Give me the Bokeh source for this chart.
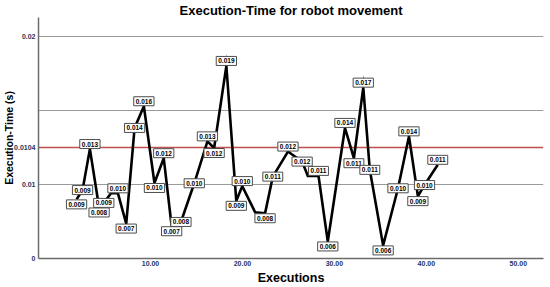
from bokeh.plotting import figure
from bokeh.models import (Range1d, FixedTicker, Span, ColumnDataSource, PrintfTickFormatter)
from bokeh.core.properties import value
from bokeh.embed import file_html
from bokeh.resources import INLINE

# ---- data ----
executions = [1.96, 2.61, 3.41, 4.41, 4.92, 5.71, 6.46, 7.36, 8.27, 9.28,
              10.43, 11.44, 12.30, 13.31, 14.76, 16.19, 16.92, 18.25, 19.33, 19.98,
              21.38, 22.46, 23.30, 24.95, 26.49, 27.11, 28.27, 29.28, 31.15, 32.12,
              33.14, 33.85, 35.30, 36.92, 38.11, 39.08, 39.80, 41.24]
exec_time = [0.00898, 0.00961, 0.01239, 0.00843, 0.00874, 0.00939, 0.00939, 0.00734, 0.01382, 0.01529,
             0.01009, 0.01177, 0.00716, 0.00745, 0.01007, 0.01291, 0.01246, 0.01802, 0.00888, 0.00988,
             0.00811, 0.00804, 0.01052, 0.01222, 0.01154, 0.01057, 0.01057, 0.00613, 0.01382, 0.01177,
             0.01655, 0.01098, 0.00586, 0.00973, 0.01325, 0.00920, 0.00995, 0.01132]
point_labels = ["0.009", "0.009", "0.013", "0.008", "0.009", "", "0.010", "0.007", "0.014", "0.016",
                "0.010", "0.012", "0.007", "0.008", "0.010", "0.013", "0.012", "0.019", "0.009", "0.010",
                "", "0.008", "0.011", "0.012", "0.012", "", "0.011", "0.006", "0.014", "0.011",
                "0.017", "0.011", "0.006", "0.010", "0.014", "0.009", "0.010", "0.011"]

x_ticks = [10, 20, 30, 40, 50]
y_ticks = [0.00498, 0.01, 0.0125, 0.02]
y_tick_labels = ["0", "0.01", "0.0104", "0.02"]
y_grid = [0.01, 0.015, 0.02]
mean_line = 0.0125

X_START, X_END = -2.18, 52.74
Y_START, Y_END = 0.004973, 0.021303

FONT = "Liberation Sans"
TICK_COLOR = "#1f3462"

p = figure(width=550, height=287, output_backend="svg", toolbar_location=None,
           title="Execution-Time for robot movement",
           x_range=Range1d(X_START, X_END), y_range=Range1d(Y_START, Y_END),
           min_border_left=35, min_border_right=7, min_border_top=0, min_border_bottom=29)
p.outline_line_color = None
p.background_fill_color = "white"
p.border_fill_color = "white"

p.title.align = "center"
p.title.text_font = FONT
p.title.text_font_size = "13px"
p.title.text_font_style = "bold"
p.title.text_color = "black"
p.title.standoff = 0
p.title.offset = 0

# axes
for ax in (p.xaxis[0], p.yaxis[0]):
    ax.major_tick_out = 0
    ax.major_tick_in = 0
    ax.minor_tick_out = 0
    ax.minor_tick_in = 0
    ax.axis_line_color = "#6b6b6b"
    ax.axis_line_width = 1.5
    ax.major_label_text_font = FONT
    ax.major_label_text_font_size = "7px"
    ax.major_label_text_font_style = "bold"
    ax.major_label_text_color = TICK_COLOR
    ax.axis_label_text_font = FONT
    ax.axis_label_text_font_style = "bold"
    ax.axis_label_text_color = "black"

p.xaxis.ticker = FixedTicker(ticks=x_ticks)
p.xaxis.formatter = PrintfTickFormatter(format="%.2f")
p.xaxis.major_label_standoff = 2
p.xaxis.axis_label = "Executions"
p.xaxis.axis_label_text_font_size = "12.5px"
p.xaxis.axis_label_standoff = 2

p.yaxis.ticker = FixedTicker(ticks=y_ticks)
p.yaxis.major_label_overrides = {t: s for t, s in zip(y_ticks, y_tick_labels)}
p.yaxis.major_label_standoff = 3
p.yaxis.axis_label = "Execution-Time (s)"
p.yaxis.axis_label_text_font_size = "10.5px"
p.yaxis.axis_label_standoff = -4

p.xgrid.visible = False
p.ygrid.ticker = FixedTicker(ticks=y_grid)
p.ygrid.grid_line_color = "#9a9a9a"
p.ygrid.grid_line_width = 1

# mean line
span = Span(location=mean_line, dimension="width", line_color="#c0504d",
            line_width=1.5, level="underlay")
p.add_layout(span)

# series
p.line(executions, exec_time, line_color="black", line_width=2.6, line_join="miter")

# point labels (above peaks, below troughs)
lx, ly, lt, lo = [], [], [], []
n = len(exec_time)
for i, (xv, yv, t) in enumerate(zip(executions, exec_time, point_labels)):
    if not t:
        continue
    prev_v = exec_time[i - 1] if i > 0 else yv
    next_v = exec_time[i + 1] if i < n - 1 else yv
    if yv >= prev_v and yv >= next_v:
        off = -5
    elif yv <= prev_v and yv <= next_v:
        off = 5
    else:
        off = 0
    lx.append(xv); ly.append(yv); lt.append(t); lo.append(off)
src = ColumnDataSource(dict(x=lx, y=ly, text=lt, yoff=lo))
p.text(x="x", y="y", text="text", y_offset="yoff", source=src,
       text_font=value(FONT), text_font_size="6.5px", text_font_style="bold",
       text_color="black", text_align="center", text_baseline="middle",
       background_fill_color="white", border_line_color="#4d4d4d",
       border_line_width=1, padding=2)

open("out.html", "w").write(file_html(p, INLINE))
